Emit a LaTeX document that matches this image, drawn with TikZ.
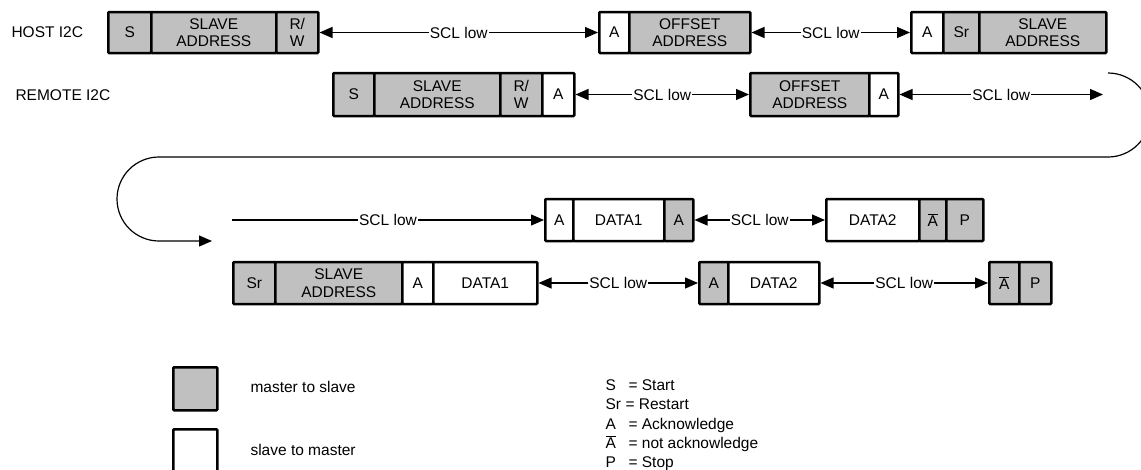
\documentclass[tikz,border=0pt]{standalone}
\usepackage{fontspec}
\setmainfont{Liberation Sans}
\usetikzlibrary{arrows.meta}
\definecolor{boxgray}{RGB}{192,192,192}
\newcommand{\nack}{\ensuremath{\overline{\mbox{A}}}}
\begin{document}
\begin{tikzpicture}[x=1pt,y=-1pt,
  every node/.style={font=\fontsize{15.5}{17.5}\selectfont},
  cell/.style={draw, line width=2.5pt, rounded corners=1pt, inner sep=0pt, anchor=west, align=center},
  mcell/.style={cell, fill=boxgray},
  scell/.style={cell, fill=white},
  r1/.style={minimum height=41},
  r2/.style={minimum height=43},
  r3/.style={minimum height=42},
  tipstyle/.style={},
  link/.style={line width=1.2pt, {Triangle[length=13pt,width=11pt]}-{Triangle[length=13pt,width=11pt]}},
  onelink/.style={line width=1.2pt, -{Triangle[length=13pt,width=11pt]}},
  lbl/.style={fill=white, inner sep=1pt}]
\clip (0,0) rectangle (1141,469);
\fill[white] (0,0) rectangle (1141,469);

% row labels
\node[anchor=base west] (host) at (8,37.5) {HOST I2C};
\node[anchor=base west] (remote) at (12,100) {REMOTE I2C};

% Row 1 (host)
\node[mcell, r1, minimum width=43] (h1s) at (107,32.5) {S};
\node[mcell, r1, minimum width=125] (h1sa) at (150,32.5) {SLAVE\\ADDRESS};
\node[mcell, r1, minimum width=42] (h1rw) at (275,32.5) {R/\\W};
\node[scell, r1, minimum width=30] (h2a) at (598,32.5) {A};
\node[mcell, r1, minimum width=121] (h2off) at (628,32.5) {OFFSET\\ADDRESS};
\node[scell, r1, minimum width=32] (h3a) at (910,32.5) {A};
\node[mcell, r1, minimum width=36] (h3sr) at (942,32.5) {Sr};
\node[mcell, r1, minimum width=127] (h3sa) at (978,32.5) {SLAVE\\ADDRESS};

\draw[link] (h1rw.east) -- node[lbl] (l1) {SCL low} (h2a.west);
\draw[link] (h2off.east) -- node[lbl] (l2) {SCL low} (h3a.west);

% Row 2 (remote)
\node[mcell, r2, minimum width=41] (r1s) at (332,94.5) {S};
\node[mcell, r2, minimum width=126] (r1sa) at (373,94.5) {SLAVE\\ADDRESS};
\node[mcell, r2, minimum width=42] (r1rw) at (499,94.5) {R/\\W};
\node[scell, r2, minimum width=32] (r1a) at (541,94.5) {A};
\node[mcell, r2, minimum width=119] (r2off) at (749,94.5) {OFFSET\\ADDRESS};
\node[scell, r2, minimum width=29] (r2a) at (868,94.5) {A};
\coordinate (rend) at (1103,94.5);

\draw[link] (r1a.east) -- node[lbl] (l3) {SCL low} (r2off.west);
\draw[link] (r2a.east) -- node[lbl] (l4) {SCL low} (rend);

% wrap-around connector
\coordinate (wstart) at (1108,73);
\coordinate (wend) at (212,241);
\draw[onelink] (wstart) arc[start angle=-90, end angle=90, radius=42]
  -- (159,157) arc[start angle=-90, end angle=-270, radius=42] -- (wend);

% Row 3 (host)
\coordinate (d0) at (232,220);
\node[scell, r3, minimum width=28] (d1a) at (544,220) {A};
\node[scell, r3, minimum width=91] (d1data) at (572,220) {DATA1};
\node[mcell, r3, minimum width=29] (d1ack) at (663,220) {A};
\node[scell, r3, minimum width=93] (d2data) at (825,220) {DATA2};
\node[mcell, r3, minimum width=27] (d2na) at (918,220) {\nack};
\node[mcell, r3, minimum width=37] (d2p) at (945,220) {P};

\draw[onelink] (d0) -- node[lbl] (l5) {SCL low} (d1a.west);
\draw[link] (d1ack.east) -- node[lbl] (l6) {SCL low} (d2data.west);

% Row 4 (remote)
\node[mcell, r3, minimum width=42] (e1sr) at (232,283) {Sr};
\node[mcell, r3, minimum width=127] (e1sa) at (274,283) {SLAVE\\ADDRESS};
\node[scell, r3, minimum width=31] (e1a) at (401,283) {A};
\node[scell, r3, minimum width=104] (e1data) at (432,283) {DATA1};
\node[mcell, r3, minimum width=29] (e2a) at (698,283) {A};
\node[scell, r3, minimum width=91] (e2data) at (727,283) {DATA2};
\node[mcell, r3, minimum width=30] (e3na) at (988,283) {\nack};
\node[mcell, r3, minimum width=32] (e3p) at (1018,283) {P};

\draw[link] (e1data.east) -- node[lbl] (l7) {SCL low} (e2a.west);
\draw[link] (e2data.east) -- node[lbl] (l8) {SCL low} (e3na.west);

% Legend
\node[draw, line width=2.5pt, rounded corners=1pt, fill=boxgray, minimum width=44, minimum height=43, anchor=north west, inner sep=0pt] (lgm) at (172,366) {};
\node[draw, line width=2.5pt, rounded corners=1pt, fill=white, minimum width=44, minimum height=44, anchor=north west, inner sep=0pt] (lgs) at (172,428) {};
\node[anchor=base west] (lgmt) at (247,392) {master to slave};
\node[anchor=base west] (lgst) at (247,455) {slave to master};

\node[anchor=base west] (k1) at (602,390) {\makebox[23pt][l]{S}= Start};
\node[anchor=base west] (k2) at (602,409.5) {\makebox[20pt][l]{Sr}= Restart};
\node[anchor=base west] (k3) at (602,429) {\makebox[23pt][l]{A}= Acknowledge};
\node[anchor=base west] (k4) at (602,448.5) {\makebox[23pt][l]{\nack}= not acknowledge};
\node[anchor=base west] (k5) at (602,467.5) {\makebox[23pt][l]{P}= Stop};
\end{tikzpicture}
\end{document}
